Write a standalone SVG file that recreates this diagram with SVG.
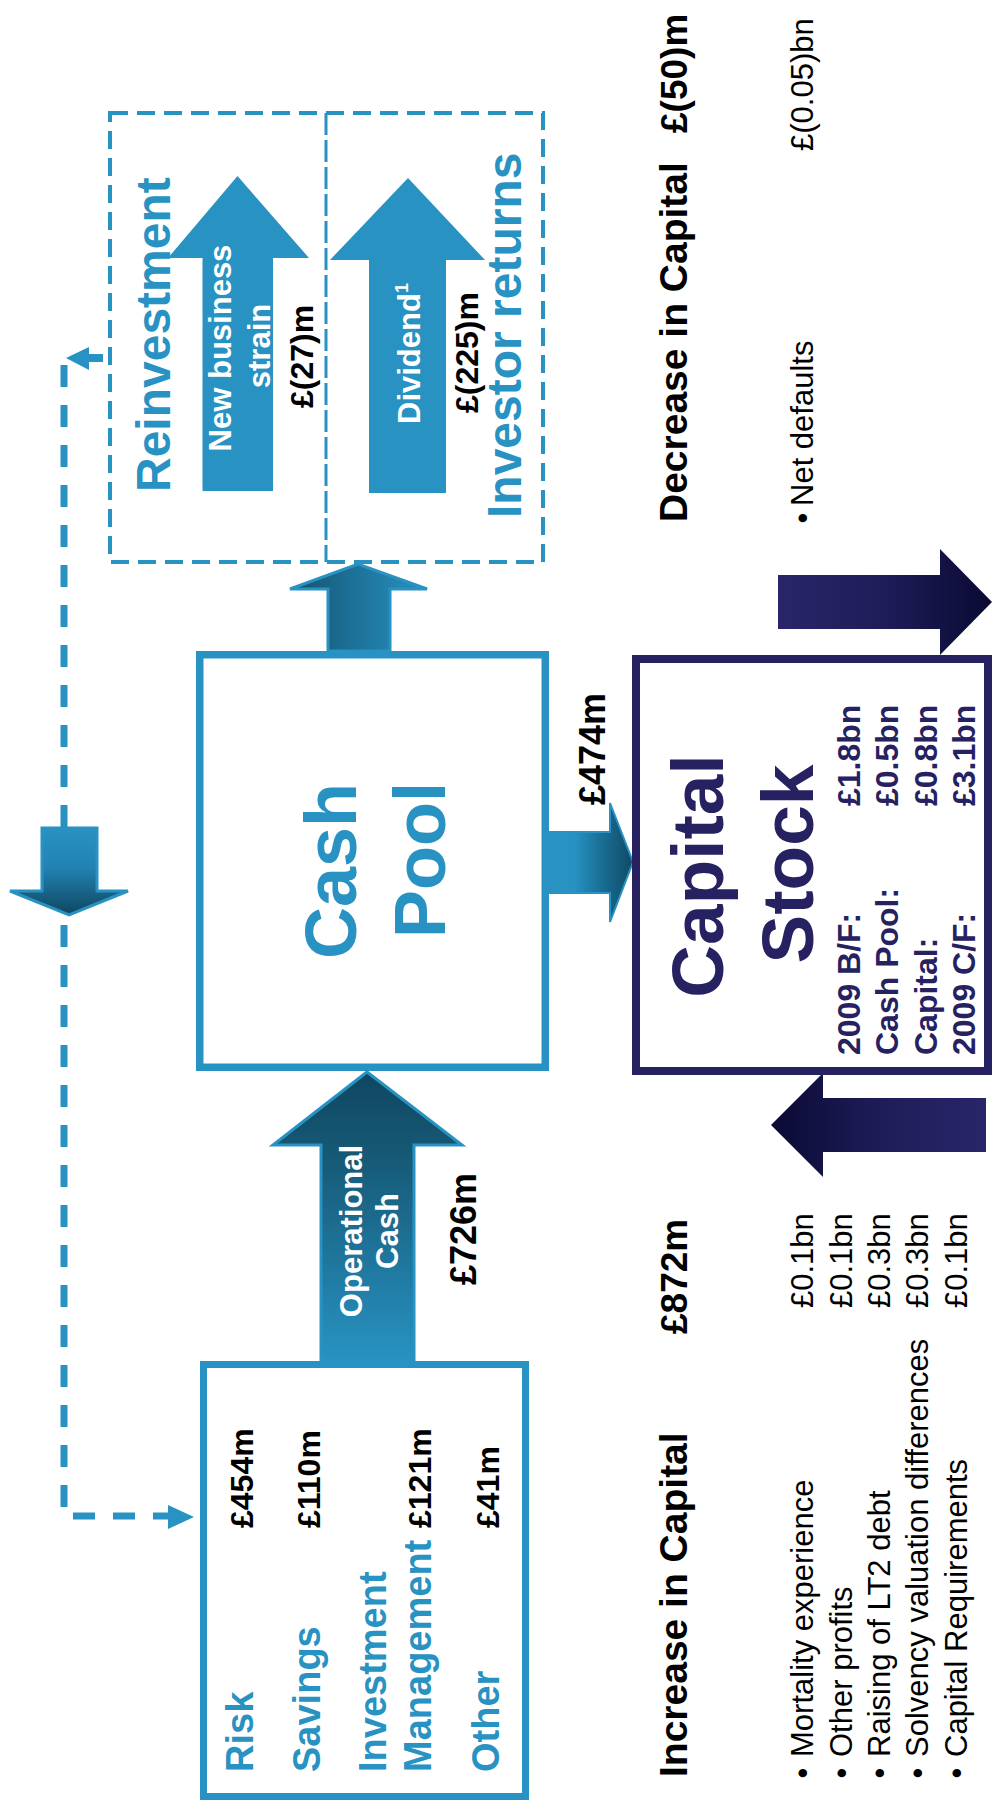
<svg xmlns="http://www.w3.org/2000/svg" width="993" height="1809" viewBox="0 0 993 1809">
<style>
text{font-family:"Liberation Sans",Arial,Helvetica,sans-serif}
.blue{fill:#2892C2}
.navy{fill:#262262}
.lbl{font-size:38px;font-weight:bold;fill:#2892C2}
.val{font-size:32px;font-weight:bold;fill:#000}
.big{font-size:72px;font-weight:bold}
.cs{font-size:32px;font-weight:bold;fill:#262262}
.head{font-size:39px;font-weight:bold;fill:#000}
.hamt{font-size:37px;font-weight:bold;fill:#000}
.bul{font-size:31px;fill:#000}
.amt{font-size:36px;font-weight:bold;fill:#000}
.inarrow{font-size:31px;font-weight:bold;fill:#fff}
.title{font-size:48px;font-weight:bold;fill:#2892C2}
.boxb{fill:#fff;stroke:#2892C2}
.dash{fill:none;stroke:#2892C2}
</style>
<defs>
<linearGradient id="gOp" x1="0" y1="0" x2="0" y2="1">
<stop offset="0" stop-color="#0f4660"/><stop offset="0.3" stop-color="#165a77"/><stop offset="1" stop-color="#2892C2"/>
</linearGradient>
<linearGradient id="gUp" x1="0" y1="0" x2="1" y2="0">
<stop offset="0" stop-color="#174f6b"/><stop offset="0.35" stop-color="#1a6a8e"/><stop offset="1" stop-color="#2892C2"/>
</linearGradient>
<linearGradient id="gRight" x1="0" y1="0" x2="1" y2="0">
<stop offset="0" stop-color="#2892C2"/><stop offset="0.3" stop-color="#2892C2"/><stop offset="0.6" stop-color="#1a7198"/><stop offset="1" stop-color="#104a65"/>
</linearGradient>
<linearGradient id="gDown" x1="0" y1="0" x2="0" y2="1">
<stop offset="0" stop-color="#2892C2"/><stop offset="0.45" stop-color="#2283b3"/><stop offset="1" stop-color="#0f4660"/>
</linearGradient>
<linearGradient id="gNavyR" x1="0" y1="0" x2="1" y2="0">
<stop offset="0" stop-color="#282668"/><stop offset="0.5" stop-color="#1e1c58"/><stop offset="1" stop-color="#0a0a33"/>
</linearGradient>
<linearGradient id="gNavyL" x1="0" y1="0" x2="1" y2="0">
<stop offset="0" stop-color="#0a0a33"/><stop offset="0.5" stop-color="#1e1c58"/><stop offset="1" stop-color="#282668"/>
</linearGradient>
</defs>
<rect width="993" height="1809" fill="#fff"/>

<g id="connectors">
<path class="dash" d="M64 365 V1516 H168" stroke-width="7" stroke-dasharray="22 18"/>
<polygon points="168,1505 194,1517 168,1529" fill="#2892C2"/>
<polygon points="66,358 89,347 89,370" fill="#2892C2"/>
<rect x="89" y="354" width="14" height="8" fill="#2892C2"/>
<polygon points="42,828 97,828 97,891 128,891 69,915 10,891 42,891" fill="url(#gDown)" stroke="#2892C2" stroke-width="3"/>
<polygon points="321,1361 321,1145 273,1145 367,1072 462,1145 414,1145 414,1361" fill="url(#gOp)" stroke="#2892C2" stroke-width="3"/>
<polygon points="328,651 328,589 290,589 358,564 427,589 390,589 390,651" fill="url(#gUp)" stroke="#2892C2" stroke-width="3"/>
<polygon points="549,832 610,832 610,803 633,862 610,922 610,893 549,893" fill="url(#gRight)" stroke="#2892C2" stroke-width="2"/>
<polygon points="778,575 940,575 940,549 992,602 940,655 940,629 778,629" fill="url(#gNavyR)"/>
<polygon points="986,1098 823,1098 823,1073 771,1125 823,1177 823,1152 986,1152" fill="url(#gNavyL)"/>
</g>

<g id="returns-box">
<rect class="dash" x="110" y="113" width="433" height="449" stroke-width="4" stroke-dasharray="18 9"/>
<line class="dash" x1="326" y1="113" x2="326" y2="562" stroke-width="3" stroke-dasharray="22 5"/>
</g>

<g id="reinvestment">
<text class="title" transform="translate(170,492) rotate(-90)">Reinvestment</text>
<polygon points="202.5,491 202.5,258 168,258 237.5,176 309,258 273,258 273,491" fill="#2892C2"/>
<text class="inarrow" text-anchor="middle" transform="translate(231,348) rotate(-90)">New business</text>
<text class="inarrow" text-anchor="middle" transform="translate(270,346) rotate(-90)">strain</text>
<text class="val" transform="translate(313,408) rotate(-90)">£(27)m</text>
</g>

<g id="investor-returns">
<polygon points="369,493 369,260 330,260 408,178 485,260 446,260 446,493" fill="#2892C2"/>
<text class="inarrow" transform="translate(420,424) rotate(-90)">Dividend<tspan font-size="18" dy="-12">1</tspan></text>
<text class="val" transform="translate(478,413) rotate(-90)">£(225)m</text>
<text class="title" transform="translate(521,518) rotate(-90)">Investor returns</text>
</g>

<g id="business-units">
<rect class="boxb" x="203.5" y="1364.5" width="322" height="432" stroke-width="7"/>
<text class="lbl" transform="translate(253,1772) rotate(-90)">Risk</text>
<text class="lbl" transform="translate(320,1772) rotate(-90)">Savings</text>
<text class="lbl" transform="translate(386,1772) rotate(-90)">Investment</text>
<text class="lbl" transform="translate(431,1772) rotate(-90)">Management</text>
<text class="lbl" transform="translate(499,1772) rotate(-90)">Other</text>
<text class="val" transform="translate(253,1528) rotate(-90)">£454m</text>
<text class="val" transform="translate(320,1528) rotate(-90)">£110m</text>
<text class="val" transform="translate(431,1528) rotate(-90)">£121m</text>
<text class="val" transform="translate(499,1528) rotate(-90)">£41m</text>
</g>

<g id="operational-cash">
<text class="inarrow" text-anchor="middle" transform="translate(362,1231) rotate(-90)">Operational</text>
<text class="inarrow" text-anchor="middle" transform="translate(398,1231) rotate(-90)">Cash</text>
<text class="amt" text-anchor="middle" transform="translate(476,1229) rotate(-90)">£726m</text>
</g>

<g id="cash-pool">
<rect class="boxb" x="199.75" y="654.75" width="345.5" height="412.5" stroke-width="7.5"/>
<text class="big blue" text-anchor="middle" transform="translate(356,871) rotate(-90)">Cash</text>
<text class="big blue" text-anchor="middle" transform="translate(445,860) rotate(-90)">Pool</text>
</g>

<g id="to-capital-label">
<text class="amt" transform="translate(605,805) rotate(-90)">£474m</text>
</g>

<g id="capital-stock">
<rect x="636" y="659" width="352" height="412" fill="#fff" stroke="#262262" stroke-width="8"/>
<text class="big navy" text-anchor="middle" transform="translate(723,876) rotate(-90)" style="font-size:73px">Capital</text>
<text class="big navy" text-anchor="middle" transform="translate(813,864) rotate(-90)" style="font-size:73px">Stock</text>
<text class="cs" transform="translate(860,1055) rotate(-90)">2009 B/F:</text>
<text class="cs" transform="translate(898,1055) rotate(-90)">Cash Pool:</text>
<text class="cs" transform="translate(937,1055) rotate(-90)">Capital:</text>
<text class="cs" transform="translate(975,1055) rotate(-90)">2009 C/F:</text>
<text class="cs" transform="translate(860,806) rotate(-90)">£1.8bn</text>
<text class="cs" transform="translate(898,806) rotate(-90)">£0.5bn</text>
<text class="cs" transform="translate(937,806) rotate(-90)">£0.8bn</text>
<text class="cs" transform="translate(975,806) rotate(-90)">£3.1bn</text>
</g>

<g id="decrease">
<text class="head" transform="translate(687,522) rotate(-90)">Decrease in Capital</text>
<text class="hamt" transform="translate(687,133) rotate(-90)">£(50)m</text>
<text class="bul" text-anchor="middle" transform="translate(813,518) rotate(-90)">•</text>
<text class="bul" transform="translate(813,506) rotate(-90)">Net defaults</text>
<text class="bul" transform="translate(813,151) rotate(-90)">£(0.05)bn</text>
</g>

<g id="increase">
<text class="head" transform="translate(687,1777) rotate(-90)">Increase in Capital</text>
<text class="hamt" transform="translate(687,1334) rotate(-90)">£872m</text>
<text class="bul" text-anchor="middle" transform="translate(813,1773) rotate(-90)">•</text>
<text class="bul" text-anchor="middle" transform="translate(852,1773) rotate(-90)">•</text>
<text class="bul" text-anchor="middle" transform="translate(890,1773) rotate(-90)">•</text>
<text class="bul" text-anchor="middle" transform="translate(928,1773) rotate(-90)">•</text>
<text class="bul" text-anchor="middle" transform="translate(967,1773) rotate(-90)">•</text>
<text class="bul" transform="translate(813,1757) rotate(-90)">Mortality experience</text>
<text class="bul" transform="translate(852,1757) rotate(-90)">Other profits</text>
<text class="bul" transform="translate(890,1757) rotate(-90)">Raising of LT2 debt</text>
<text class="bul" transform="translate(928,1757) rotate(-90)">Solvency valuation differences</text>
<text class="bul" transform="translate(967,1757) rotate(-90)">Capital Requirements</text>
<text class="bul" transform="translate(813,1308) rotate(-90)">£0.1bn</text>
<text class="bul" transform="translate(852,1308) rotate(-90)">£0.1bn</text>
<text class="bul" transform="translate(890,1308) rotate(-90)">£0.3bn</text>
<text class="bul" transform="translate(928,1308) rotate(-90)">£0.3bn</text>
<text class="bul" transform="translate(967,1308) rotate(-90)">£0.1bn</text>
</g>
</svg>
